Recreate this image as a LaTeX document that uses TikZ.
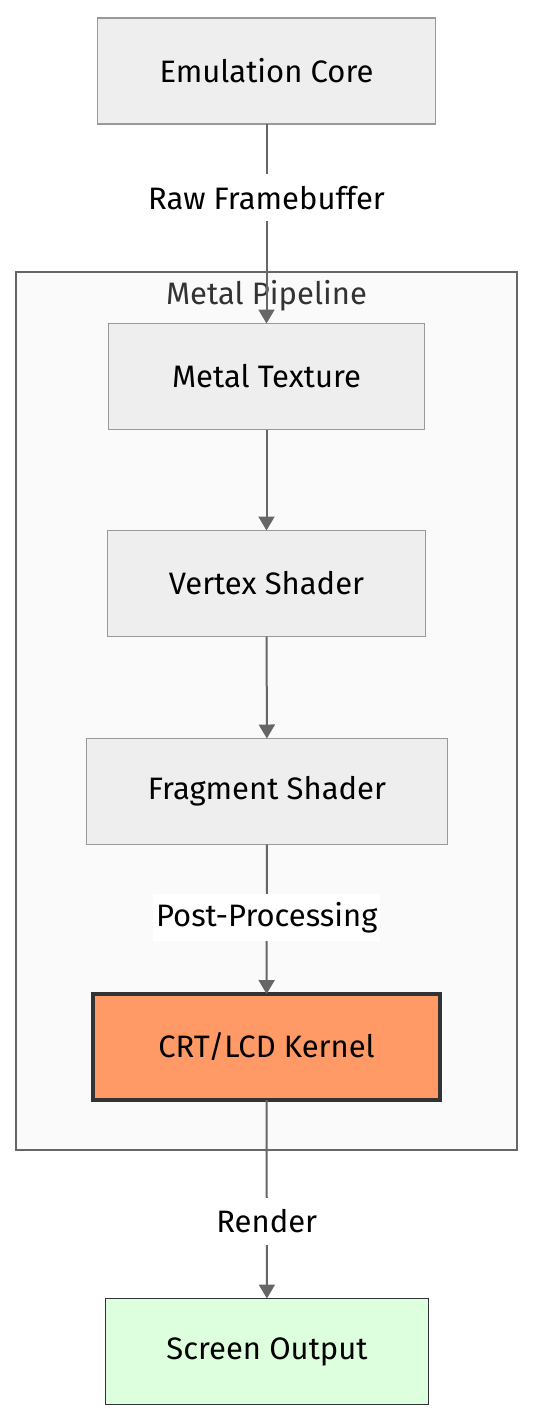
\documentclass[tikz,border=0pt]{standalone}
\usepackage{fontspec}
\setmainfont{Fira Sans}
\usetikzlibrary{arrows.meta}

\definecolor{boxfill}{HTML}{EEEEEE}
\definecolor{boxline}{HTML}{999999}
\definecolor{edgeline}{HTML}{666666}
\definecolor{groupfill}{HTML}{FAFAFA}
\definecolor{kernelfill}{HTML}{FF9966}
\definecolor{outfill}{HTML}{DDFFDD}
\definecolor{darkline}{HTML}{333333}

\begin{document}
\begin{tikzpicture}[x=1pt,y=-1pt,
  box/.style = {rectangle,draw=boxline,fill=boxfill,line width=1.5pt,minimum height=106pt,
                inner sep=0pt,outer sep=0pt,font=\fontsize{31}{36}\selectfont},
  flow/.style = {-{Triangle[length=14pt,width=16pt]},draw=edgeline,line width=2pt},
  tag/.style = {fill=white,inner xsep=3pt,inner ysep=0pt,minimum height=47pt,font=\fontsize{31}{36}\selectfont}]
\useasboundingbox (0,0) rectangle (535,1424);

% group
\draw[draw=edgeline,fill=groupfill,line width=1.5pt] (16,272) rectangle (517,1150);
\node[text=darkline,font=\fontsize{31}{36}\selectfont] (grouptitle) at (266.5,296) {Metal Pipeline};

% nodes
\node[box,minimum width=338pt] (core) at (266.5,71) {Emulation Core};
\node[box,minimum width=316pt] (texture) at (266.5,376.5) {Metal Texture};
\node[box,minimum width=318pt] (vertex) at (266.5,583.5) {Vertex Shader};
\node[box,minimum width=361pt] (fragment) at (267,791.5) {Fragment Shader};
\node[box,fill=kernelfill,draw=darkline,line width=3.5pt,minimum width=347pt] (kernel) at (266.5,1047) {CRT/LCD Kernel};
\node[box,fill=outfill,draw=darkline,minimum width=323pt] (screen) at (267,1351.5) {Screen Output};

% edges
\draw[flow] (core) -- (texture) node[tag,pos=0.37] (rawlabel) {Raw Framebuffer};
\draw[flow] (texture) -- (vertex);
\draw[flow] (vertex) -- (fragment);
\draw[flow] (fragment) -- (kernel) node[tag,pos=0.49] (postlabel) {Post-Processing};
\draw[flow] (kernel) -- (screen) node[tag,pos=0.61] (renderlabel) {Render};
\end{tikzpicture}
\end{document}
